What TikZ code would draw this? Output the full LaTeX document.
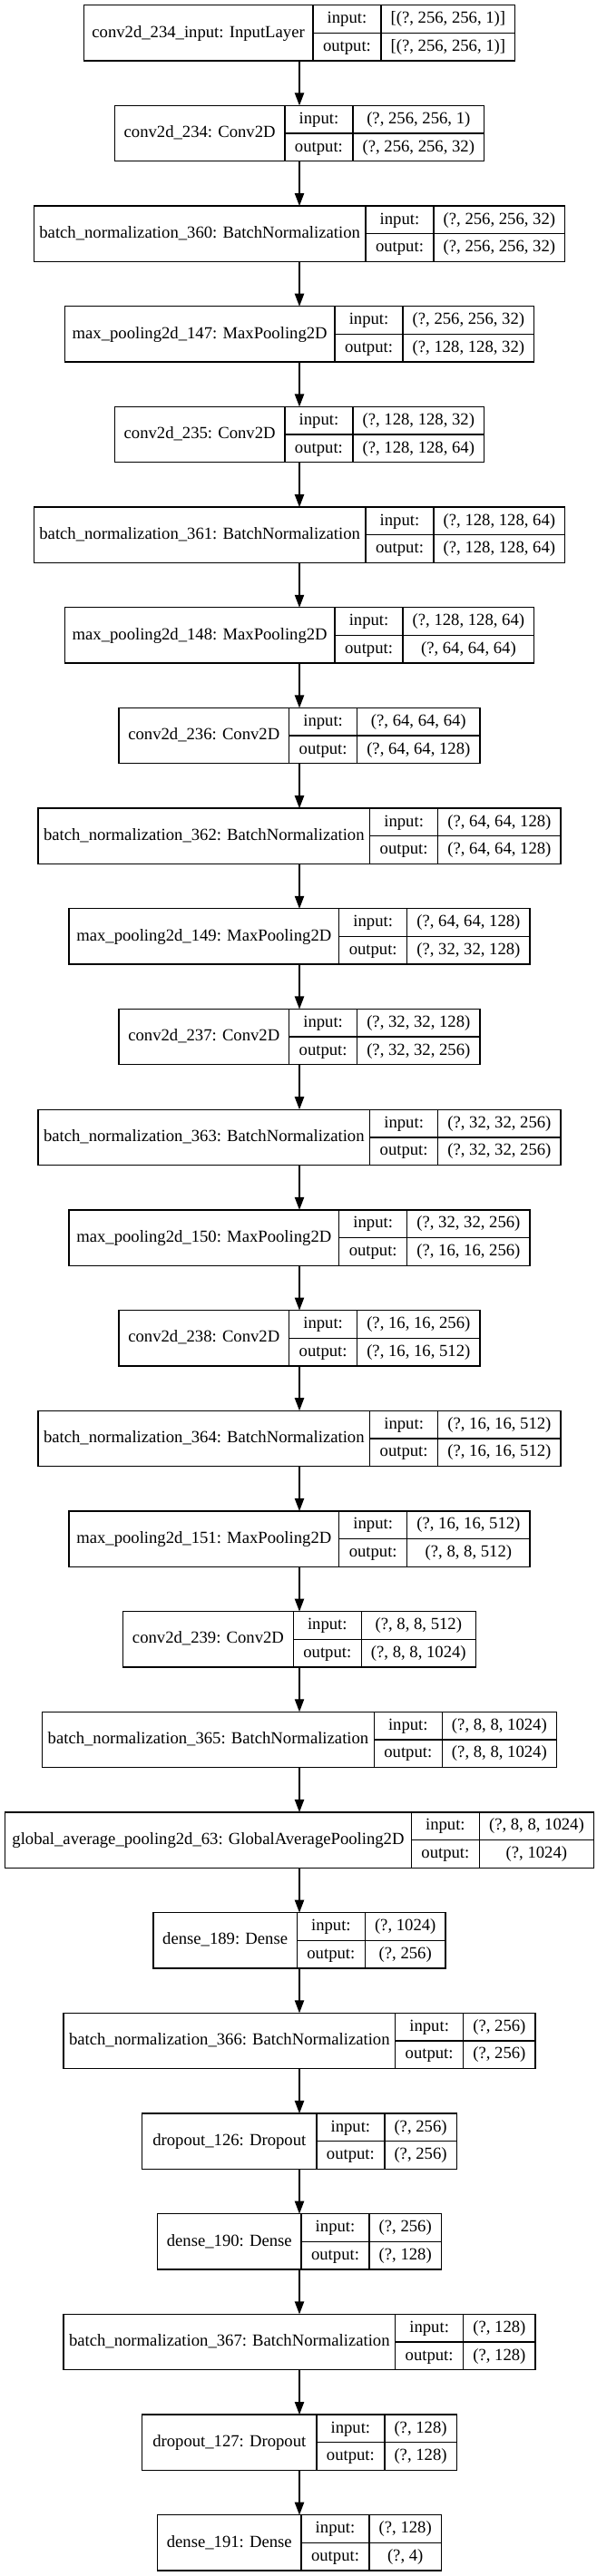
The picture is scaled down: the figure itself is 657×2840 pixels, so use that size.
\documentclass[tikz,border=0pt]{standalone}
\usepackage{fontspec}
\setmainfont{Liberation Serif}
\usetikzlibrary{arrows.meta}
\newdimen\kwi \newdimen\kwo
\newcommand\lfont{\fontsize{14pt}{16.8pt}\selectfont}
\tikzset{
  kbox/.style={draw=black, line width=1pt, inner sep=0pt, outer sep=0pt, minimum height=46pt},
  kline/.style={draw=black, line width=1pt},
  ktext/.style={font=\lfont, inner sep=0pt, outer sep=0pt, text height=10pt, text depth=3pt, anchor=center},
  karrow/.style={draw=black, line width=1pt, -{Triangle[length=10.5pt,width=7.7pt]}}
}
% measured outside the picture: #1 name, #2 index, #3 label column width (px), #4 label, #5 input shape, #6 output shape
\newcommand\klayer[6]{%
  \setbox0=\hbox{\lfont #5}\kwi=\wd0
  \setbox0=\hbox{\lfont #6}\kwo=\wd0
  \ifdim\kwo>\kwi \kwi=\kwo\fi
  \expandafter\xdef\csname kw#2\endcsname{\the\kwi}%
  \expandafter\gdef\csname kd#2\endcsname{\kdraw{#1}{#2}{#3}{#4}{#5}{#6}}%
}
\newcommand\kdraw[6]{%
  \pgfmathsetmacro\kA{#3}%
  \pgfmathsetmacro\kC{\csname kw#2\endcsname/0.75+21.33}%
  \pgfmathsetmacro\kT{\kA+75+\kC}%
  \pgfmathsetmacro\kxl{330-\kT/2}%
  \pgfmathsetmacro\kxa{\kxl+\kA}%
  \pgfmathsetmacro\kxb{\kxa+75}%
  \pgfmathsetmacro\kxr{\kxl+\kT}%
  \pgfmathsetmacro\kyt{5.7+#2*110.68}%
  \pgfmathsetmacro\kyb{\kyt+61.3}%
  \pgfmathsetmacro\kym{\kyt+30.65}%
  \pgfmathsetmacro\kyi{\kyt+15.33}%
  \pgfmathsetmacro\kyo{\kyt+45.97}%
  \node[kbox, minimum width=\kT*0.75pt] (#1) at (330,\kym) {};
  \draw[kline] (\kxa,\kyt) -- (\kxa,\kyb);
  \draw[kline] (\kxb,\kyt) -- (\kxb,\kyb);
  \draw[kline] (\kxa,\kym) -- (\kxr,\kym);
  \node[ktext] (#1-name) at ({(\kxl+\kxa)/2},\kym) {#4};
  \node[ktext] (#1-ik) at ({(\kxa+\kxb)/2},\kyi) {input:};
  \node[ktext] (#1-ok) at ({(\kxa+\kxb)/2},\kyo) {output:};
  \node[ktext] (#1-iv) at ({(\kxb+\kxr)/2},\kyi) {#5};
  \node[ktext] (#1-ov) at ({(\kxb+\kxr)/2},\kyo) {#6};
}
\begin{document}
\klayer{L0}{0}{252.7}{conv2d\_234\_input: InputLayer}{[(?, 256, 256, 1)]}{[(?, 256, 256, 1)]}
\klayer{L1}{1}{187.6}{conv2d\_234: Conv2D}{(?, 256, 256, 1)}{(?, 256, 256, 32)}
\klayer{L2}{2}{365.7}{batch\_normalization\_360: BatchNormalization}{(?, 256, 256, 32)}{(?, 256, 256, 32)}
\klayer{L3}{3}{297.8}{max\_pooling2d\_147: MaxPooling2D}{(?, 256, 256, 32)}{(?, 128, 128, 32)}
\klayer{L4}{4}{187.6}{conv2d\_235: Conv2D}{(?, 128, 128, 32)}{(?, 128, 128, 64)}
\klayer{L5}{5}{365.7}{batch\_normalization\_361: BatchNormalization}{(?, 128, 128, 64)}{(?, 128, 128, 64)}
\klayer{L6}{6}{297.8}{max\_pooling2d\_148: MaxPooling2D}{(?, 128, 128, 64)}{(?, 64, 64, 64)}
\klayer{L7}{7}{187.6}{conv2d\_236: Conv2D}{(?, 64, 64, 64)}{(?, 64, 64, 128)}
\klayer{L8}{8}{365.7}{batch\_normalization\_362: BatchNormalization}{(?, 64, 64, 128)}{(?, 64, 64, 128)}
\klayer{L9}{9}{297.8}{max\_pooling2d\_149: MaxPooling2D}{(?, 64, 64, 128)}{(?, 32, 32, 128)}
\klayer{L10}{10}{187.6}{conv2d\_237: Conv2D}{(?, 32, 32, 128)}{(?, 32, 32, 256)}
\klayer{L11}{11}{365.7}{batch\_normalization\_363: BatchNormalization}{(?, 32, 32, 256)}{(?, 32, 32, 256)}
\klayer{L12}{12}{297.8}{max\_pooling2d\_150: MaxPooling2D}{(?, 32, 32, 256)}{(?, 16, 16, 256)}
\klayer{L13}{13}{187.6}{conv2d\_238: Conv2D}{(?, 16, 16, 256)}{(?, 16, 16, 512)}
\klayer{L14}{14}{365.7}{batch\_normalization\_364: BatchNormalization}{(?, 16, 16, 512)}{(?, 16, 16, 512)}
\klayer{L15}{15}{297.8}{max\_pooling2d\_151: MaxPooling2D}{(?, 16, 16, 512)}{(?, 8, 8, 512)}
\klayer{L16}{16}{187.6}{conv2d\_239: Conv2D}{(?, 8, 8, 512)}{(?, 8, 8, 1024)}
\klayer{L17}{17}{365.7}{batch\_normalization\_365: BatchNormalization}{(?, 8, 8, 1024)}{(?, 8, 8, 1024)}
\klayer{L18}{18}{447.8}{global\_average\_pooling2d\_63: GlobalAveragePooling2D}{(?, 8, 8, 1024)}{(?, 1024)}
\klayer{L19}{19}{158.4}{dense\_189: Dense}{(?, 1024)}{(?, 256)}
\klayer{L20}{20}{365.7}{batch\_normalization\_366: BatchNormalization}{(?, 256)}{(?, 256)}
\klayer{L21}{21}{192.1}{dropout\_126: Dropout}{(?, 256)}{(?, 256)}
\klayer{L22}{22}{158.4}{dense\_190: Dense}{(?, 256)}{(?, 128)}
\klayer{L23}{23}{365.7}{batch\_normalization\_367: BatchNormalization}{(?, 128)}{(?, 128)}
\klayer{L24}{24}{192.1}{dropout\_127: Dropout}{(?, 128)}{(?, 128)}
\klayer{L25}{25}{158.4}{dense\_191: Dense}{(?, 128)}{(?, 4)}
\begin{tikzpicture}[x=0.75pt, y=-0.75pt]
\fill[white] (0,0) rectangle (657,2840);
\useasboundingbox (0,0) rectangle (657,2840);
\foreach \n in {0,...,25} {\csname kd\n\endcsname}
\foreach \i [evaluate=\i as \j using int(\i+1)] in {0,...,24}
  \draw[karrow] (L\i.south) -- (L\j.north);
\end{tikzpicture}
\end{document}
